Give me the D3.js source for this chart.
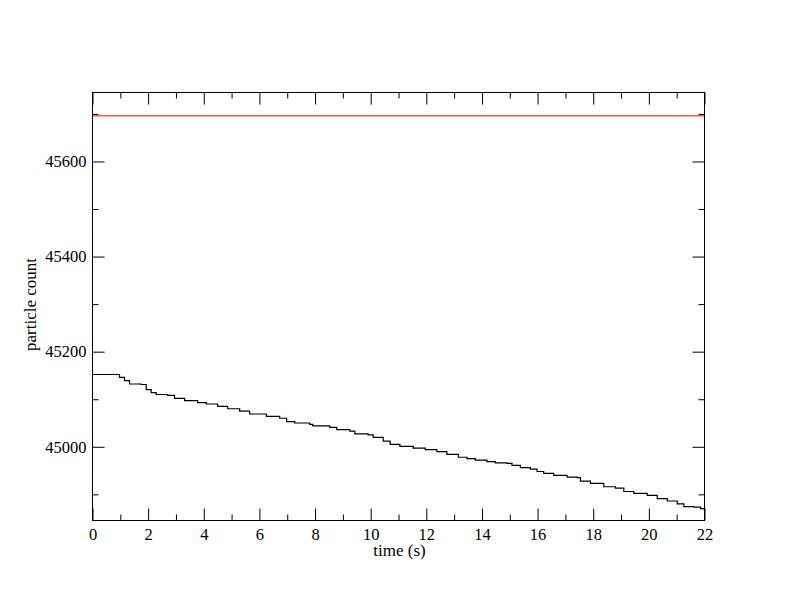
<!DOCTYPE html>
<html><head><meta charset="utf-8">
<script src="https://cdn.jsdelivr.net/npm/d3@7"></script>
<style>body{margin:0;background:#fff}svg{display:block}text{font-family:"Liberation Serif","DejaVu Serif",serif;fill:#000}</style>
</head><body>
<svg id="c" width="792" height="612"></svg>
<script>
const times = [0,0.85,0.97,1.15,1.33,1.75,1.93,2.11,2.29,2.70,2.95,3.31,3.67,3.78,4.09,4.50,4.86,5.29,5.65,6.25,6.73,6.98,7.27,7.81,7.92,8.53,8.78,9.25,9.43,9.91,10.09,10.45,10.70,11.05,11.53,11.96,12.38,12.74,13.15,13.46,13.76,14.18,14.48,14.90,15.08,15.38,15.74,15.98,16.22,16.58,17.06,17.42,17.54,17.90,18.38,18.80,19.10,19.46,19.94,20.30,20.66,21.02,21.26,21.62,21.86,22.0];
const counts = [45152,45152,45146,45139,45132,45131,45120,45114,45110,45108,45102,45097,45097,45093,45090,45085,45080,45075,45069,45064,45060,45053,45050,45047,45044,45041,45036,45033,45027,45025,45020,45012,45005,45001,44997,44994,44990,44984,44978,44975,44972,44969,44966,44965,44961,44956,44953,44948,44944,44940,44936,44935,44928,44923,44916,44913,44906,44902,44898,44891,44886,44880,44874,44873,44870,44865];
const refLevel = 45696;
const xTicks = [0,2,4,6,8,10,12,14,16,18,20,22];
const xMinor = [1,3,5,7,9,11,13,15,17,19,21];
const yTicks = [45000,45200,45400,45600];
const yMinor = [44900,45100,45300,45500,45700];
const xDomain = [0,22], yDomain = [44845,45745];

(function(){
const svg = d3.select("#c");
const L=92.5, R=704.5, T=92.5, B=520.5;
const x = d3.scaleLinear().domain(xDomain).range([L,R]);
const y = d3.scaleLinear().domain(yDomain).range([B,T]);

svg.append("line").attr("x1",L).attr("x2",R).attr("y1",y(refLevel)).attr("y2",y(refLevel))
  .attr("stroke","#ff0000").attr("stroke-width",1);

const data = times.map((t,i)=>[t,counts[i]]);
svg.append("path").datum(data)
  .attr("d", d3.line().x(d=>x(d[0])).y(d=>y(d[1])).curve(d3.curveStepAfter))
  .attr("fill","none").attr("stroke","#000").attr("stroke-width",1.2);

function ax(gen, tr){ return svg.append("g").attr("transform",tr).call(gen); }
const fs = "16.5px";
const gBottom = ax(d3.axisBottom(x).tickValues(xTicks).tickSize(-12).tickPadding(18).tickFormat(d3.format("d")), `translate(0,${B})`);
ax(d3.axisBottom(x).tickValues(xMinor).tickSize(-6).tickFormat(""), `translate(0,${B})`);
ax(d3.axisTop(x).tickValues(xTicks).tickSize(-12).tickFormat(""), `translate(0,${T})`);
ax(d3.axisTop(x).tickValues(xMinor).tickSize(-6).tickFormat(""), `translate(0,${T})`);
ax(d3.axisLeft(y).tickValues(yTicks).tickSize(-12).tickPadding(6).tickFormat(d3.format("d")), `translate(${L},0)`);
ax(d3.axisLeft(y).tickValues(yMinor).tickSize(-6).tickFormat(""), `translate(${L},0)`);
ax(d3.axisRight(y).tickValues(yTicks).tickSize(-12).tickFormat(""), `translate(${R},0)`);
ax(d3.axisRight(y).tickValues(yMinor).tickSize(-6).tickFormat(""), `translate(${R},0)`);
svg.selectAll(".domain").remove();
svg.selectAll(".tick line").attr("stroke","#000").attr("stroke-width",1);
svg.selectAll(".tick text").style("font-size",fs).style("font-family",'"Liberation Serif",serif').attr("fill","#000");
gBottom.selectAll(".tick text").attr("dy","0.71em").attr("y",8);
svg.append("rect").attr("x",L).attr("y",T).attr("width",R-L).attr("height",B-T)
  .attr("fill","none").attr("stroke","#000").attr("stroke-width",1);

svg.append("text").attr("x",399.5).attr("y",556).attr("text-anchor","middle")
  .style("font-size","17px").text("time (s)");
svg.append("text").attr("transform",`translate(35.5,304.5) rotate(-90)`).attr("text-anchor","middle")
  .style("font-size","17px").text("particle count");
})();
</script>
</body></html>
